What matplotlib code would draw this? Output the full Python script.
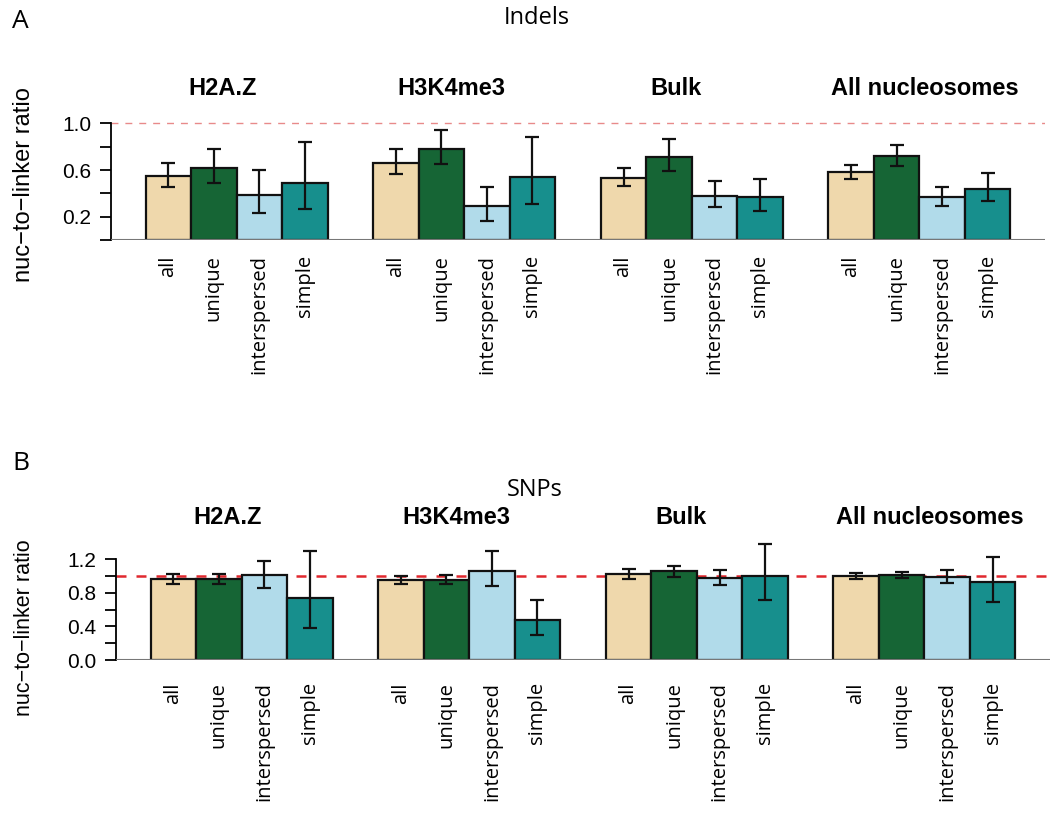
import matplotlib
matplotlib.use('Agg')
import matplotlib.pyplot as plt

# groups and categories
groups = ['H2A.Z', 'H3K4me3', 'Bulk', 'All nucleosomes']
cats = ['all', 'unique', 'interspersed', 'simple']
colors = ['#EFD8AC', '#166535', '#B1DBEA', '#178F8D']

# Indels: nuc-to-linker ratio, lower and upper error limits
indel_mean = [[0.547, 0.622, 0.389, 0.491],
              [0.664, 0.781, 0.290, 0.540],
              [0.534, 0.712, 0.379, 0.365],
              [0.580, 0.718, 0.367, 0.440]]
indel_lo = [[0.452, 0.490, 0.236, 0.264],
            [0.563, 0.652, 0.166, 0.310],
            [0.460, 0.589, 0.281, 0.247],
            [0.522, 0.635, 0.290, 0.333]]
indel_hi = [[0.662, 0.783, 0.600, 0.838],
            [0.778, 0.942, 0.459, 0.885],
            [0.621, 0.871, 0.506, 0.522],
            [0.643, 0.819, 0.459, 0.578]]

# SNPs
snp_mean = [[0.962, 0.962, 1.009, 0.739],
            [0.950, 0.958, 1.065, 0.481],
            [1.029, 1.057, 0.981, 1.001],
            [1.001, 1.017, 0.993, 0.926]]
snp_lo = [[0.910, 0.902, 0.858, 0.385],
          [0.910, 0.910, 0.878, 0.298],
          [0.969, 0.993, 0.898, 0.715],
          [0.962, 0.973, 0.918, 0.691]]
snp_hi = [[1.025, 1.029, 1.176, 1.295],
          [1.001, 1.017, 1.299, 0.711],
          [1.088, 1.124, 1.076, 1.383],
          [1.041, 1.053, 1.076, 1.231]]

# group title centres (bar units)
title_x = [2.70, 7.71, 12.66, 18.13]

W, H = 1050, 813
fig = plt.figure(figsize=(W / 100, H / 100), dpi=100)

sans = ['Liberation Sans', 'DejaVu Sans']
hum = ['Open Sans', 'DejaVu Sans']


def panel(x0_px, y0_px, ppu, ymax, mean, lo, hi, ticks, labels, line_kw,
          title_y, lab_pad, ylab_size, ylab_pos):
    bottom = 1 - y0_px / H
    height = ymax * ppu / H
    ax = fig.add_axes([x0_px / W, bottom, 934 / W, height])
    ax.set_xlim(0.24, 20.76)
    ax.set_ylim(0, ymax)
    ax.axhline(1.0, zorder=1, **line_kw)
    xs, names = [], []
    for g in range(4):
        for j in range(4):
            x = 1 + 5 * g + j + 0.5
            m = mean[g][j]
            ax.bar(x, m, width=1, color=colors[j], edgecolor='#111111', linewidth=1.6, zorder=2)
            ax.errorbar(x, m, yerr=[[m - lo[g][j]], [hi[g][j] - m]], color='#111111',
                        elinewidth=1.6, capsize=5, capthick=1.6, zorder=4)
            xs.append(x)
            names.append(cats[j])
        ax.text(title_x[g], title_y, groups[g], ha='center', va='center',
                fontsize=17, fontweight='bold', family=sans)
    ax.axhline(0, color='#777777', linewidth=1.5, zorder=3)
    for s in ['top', 'right', 'bottom']:
        ax.spines[s].set_visible(False)
    ax.spines['left'].set_bounds(0, ticks[-1])
    ax.spines['left'].set_linewidth(1.3)
    ax.set_yticks(ticks)
    ax.set_yticklabels(labels, family=sans, fontsize=15)
    ax.tick_params(axis='y', length=8, width=1.3, pad=6)
    ax.set_xticks(xs)
    ax.set_xticklabels(names, rotation=90, family=hum, fontsize=14.5)
    ax.tick_params(axis='x', length=0, pad=lab_pad)
    ax.set_ylabel('nuc\u2212to\u2212linker ratio', family=sans, fontsize=ylab_size)
    ax.yaxis.set_label_coords(*ylab_pos)
    return ax


axA = panel(111, 240, 116.5, 1.08, indel_mean, indel_lo, indel_hi,
            [0, 0.2, 0.4, 0.6, 0.8, 1.0], ['', '0.2', '', '0.6', '', '1.0'],
            dict(color='#E88A8A', linestyle=(0, (5, 5)), linewidth=1.0), 1.30, 11,
            17, (-0.081, 0.437))
axB = panel(116, 660, 83.9, 1.42, snp_mean, snp_lo, snp_hi,
            [0, 0.2, 0.4, 0.6, 0.8, 1.0, 1.2], ['0.0', '', '0.4', '', '0.8', '', '1.2'],
            dict(color='#E0282E', linestyle=(0, (4, 4)), linewidth=1.8), 1.70, 16,
            15.5, (-0.087, 0.27))

fig.text(12 / W, 1 - 22 / H, 'A', fontsize=19, family=hum, va='center', ha='left')
fig.text(537 / W, 1 - 18 / H, 'Indels', fontsize=17, family=hum, va='center', ha='center')
fig.text(12 / W, 1 - 463 / H, 'B', fontsize=19, family=hum, va='center', ha='left')
fig.text(535 / W, 1 - 490 / H, 'SNPs', fontsize=17, family=hum, va='center', ha='center')

fig.savefig('out.png', dpi=100)
